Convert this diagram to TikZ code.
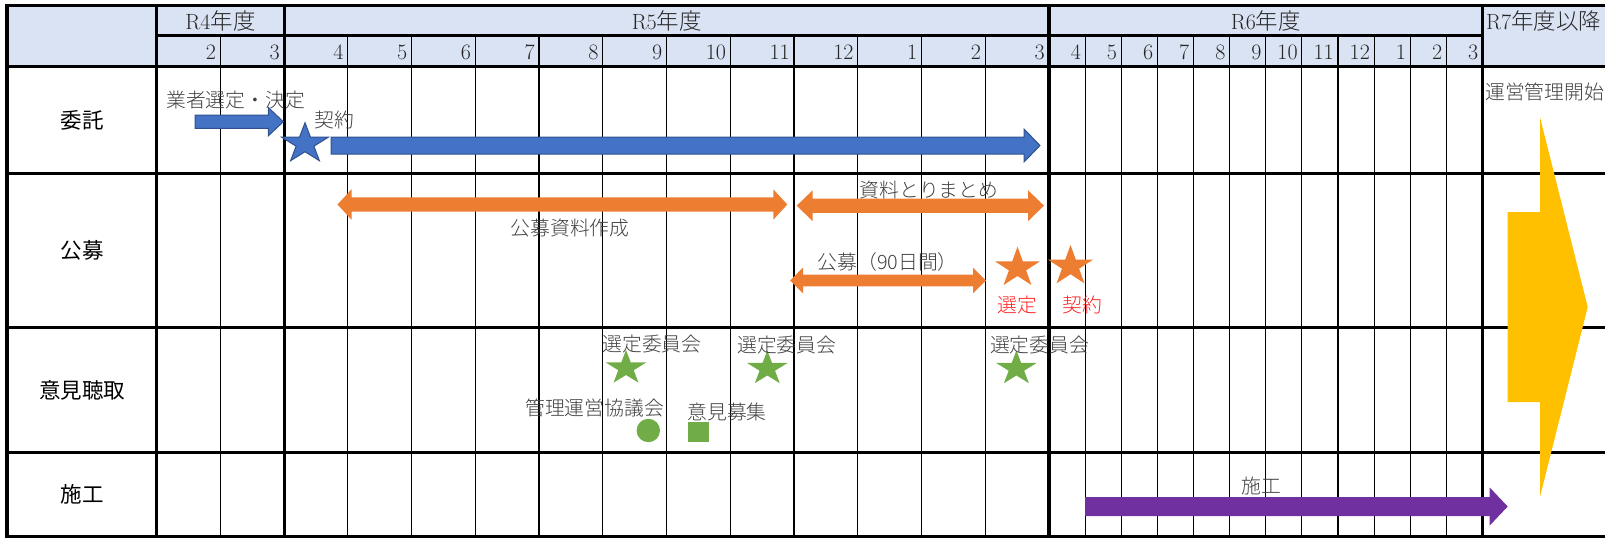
\documentclass[tikz,border=0pt]{standalone}
\usepackage{fontspec}
\newfontfamily\jp{Noto Sans CJK JP}
\IfFontExistsTF{Noto Sans CJK JP Light}{\newfontfamily\jpl{Noto Sans CJK JP Light}}{\newfontfamily\jpl{Noto Sans CJK JP}}
\definecolor{hdr}{HTML}{DAE3F3}
\definecolor{cblue}{HTML}{4472C4}
\definecolor{cblueline}{HTML}{2F528F}
\definecolor{corange}{HTML}{ED7D31}
\definecolor{cgreen}{HTML}{70AD47}
\definecolor{cpurple}{HTML}{7030A0}
\definecolor{cyellow}{HTML}{FFC000}
\definecolor{txtgray}{HTML}{404040}
\definecolor{cred}{HTML}{FF2020}
% right block arrow: style, xstart, xtip, yc, shaft half, head half, head length
\newcommand{\blockR}[7]{%
  \draw[#1] (#2,{#4-#5}) -- ({#3-#7},{#4-#5}) -- ({#3-#7},{#4-#6}) -- (#3,#4)
    -- ({#3-#7},{#4+#6}) -- ({#3-#7},{#4+#5}) -- (#2,{#4+#5}) -- cycle;}
% double block arrow: style, xlefttip, xrighttip, yc, shaft half, head half, head length
\newcommand{\blockLR}[7]{%
  \draw[#1] (#2,#4) -- ({#2+#7},{#4-#6}) -- ({#2+#7},{#4-#5}) -- ({#3-#7},{#4-#5})
    -- ({#3-#7},{#4-#6}) -- (#3,#4) -- ({#3-#7},{#4+#6}) -- ({#3-#7},{#4+#5})
    -- ({#2+#7},{#4+#5}) -- ({#2+#7},{#4+#6}) -- cycle;}
% star: style, cx, top, width, height
\newcommand{\estar}[5]{%
  \begin{scope}[shift={(#2,{#3+#5/1.809})}, xscale={#4/1.902}, yscale={-#5/1.809}]
    \draw[#1] (90:1) -- (126:0.382) -- (162:1) -- (198:0.382) -- (234:1) -- (270:0.382)
      -- (306:1) -- (342:0.382) -- (18:1) -- (54:0.382) -- cycle;
  \end{scope}}
\begin{document}
\begin{tikzpicture}[x=1pt,y=-1pt,
  thinline/.style={line width=1.1pt, black},
  thickline/.style={line width=3.2pt, black, line cap=rect},
  body/.style={font=\jpl\fontsize{19.8}{22}\selectfont, text=txtgray, inner sep=0pt},
  redt/.style={font=\jpl\fontsize{19.8}{22}\selectfont, text=cred, inner sep=0pt},
  rowlbl/.style={font=\jp\fontsize{21.5}{24}\selectfont, text=black, inner sep=0pt},
  yearlbl/.style={font=\fontsize{22}{24}\selectfont, text=black!85, inner sep=0pt},
  yearjp/.style={font=\jpl\fontsize{22.5}{24}\selectfont},
  mon/.style={font=\fontsize{22}{24}\selectfont, text=black!85, inner sep=0pt, anchor=east}]
\path[use as bounding box, clip] (0,0) rectangle (1605,538);

% header background
\fill[hdr] (7,5.3) rectangle (1610,66.3);

% thin month lines
\foreach \k in {1,3,4,...,13} {
  \draw[thinline] ({156.5+63.75*\k},35.5) -- ({156.5+63.75*\k},536.5);
}
\foreach \k in {1,...,11} {
  \draw[thinline] ({1049+36.125*\k},35.5) -- ({1049+36.125*\k},536.5);
}
% thick lines
\foreach \xx in {7,156.5,284.5,1049,1482.5} {
  \draw[thickline] (\xx,5.3) -- (\xx,536.5);
}
\foreach \yy in {5.3,66.3,173.5,327.5,452.5,536.5} {
  \draw[thickline] (7,\yy) -- (1610,\yy);
}
\draw[thickline] (156.5,35.5) -- (1482.5,35.5);

% header texts
\newcommand{\nendo}[1]{{\jpl\fontsize{22.5}{24}\selectfont #1}}
\node[yearlbl] (r4) at (220.5,21) {R4\nendo{年度}};
\node[yearlbl] (r5) at (666.8,21) {R5\nendo{年度}};
\node[yearlbl] (r6) at (1265.8,21) {R6\nendo{年度}};
\node[yearlbl, anchor=west] (r7) at (1486,21) {R7\nendo{年度以降}};
\foreach \n [count=\i from 0] in {2,3,4,5,6,7,8,9,10,11,12,1,2,3} {
  \node[mon] (m\i) at ({156.5+63.75*(\i+1)-4},52.5) {\n};
}
\foreach \n [count=\i from 0] in {4,5,6,7,8,9,10,11,12,1,2,3} {
  \node[mon] (n\i) at ({1049+36.125*(\i+1)-4},52.5) {\n};
}

% row labels
\node[rowlbl] (l1) at (82,120) {委託};
\node[rowlbl] (l2) at (82,250.5) {公募};
\node[rowlbl] (l3) at (82,390) {意見聴取};
\node[rowlbl] (l4) at (82,494.5) {施工};

% yellow arrow
\blockR{fill=cyellow, draw=none}{1507.7}{1587.7}{307}{95}{189.7}{47.7}

% blue arrows and star
\blockR{fill=cblue, draw=cblueline, line width=1pt}{195}{283.3}{121.7}{6.6}{14.2}{15}
\blockR{fill=cblue, draw=cblueline, line width=1pt}{331}{1040}{145.5}{8.5}{16.5}{16}
\estar{fill=cblue, draw=cblueline, line width=1pt}{305}{122.7}{46.6}{38}

% orange arrows and stars
\blockLR{fill=corange, draw=none}{337.5}{787.3}{204.5}{7.2}{15.2}{14}
\blockLR{fill=corange, draw=none}{796.7}{1044}{205.7}{7.2}{15.5}{16}
\blockLR{fill=corange, draw=none}{790}{986}{280.5}{5.9}{12.8}{13}
\estar{fill=corange, draw=none}{1017.5}{246.7}{45}{38.3}
\estar{fill=corange, draw=none}{1070.5}{245}{45}{38.3}

% green marks
\estar{fill=cgreen, draw=none}{626}{350}{40.4}{32.7}
\estar{fill=cgreen, draw=none}{767.3}{350.5}{40.4}{32.7}
\estar{fill=cgreen, draw=none}{1016.4}{350.5}{40.4}{32.7}
\fill[cgreen] (648.3,430.5) circle[radius=11.7];
\fill[cgreen] (688,421.7) rectangle (709,442);

% purple arrow
\blockR{fill=cpurple, draw=none}{1085}{1507.7}{506.5}{9.5}{19}{18}

% body texts
\node[body] (t1) at (235.5,100) {業者選定・決定};
\node[body] (t2) at (334,119.5) {契約};
\node[body] (t3) at (570,228.5) {公募資料作成};
\node[body] (t4) at (929,190) {資料とりまとめ};
\node[body] (t5) at (887.7,261.7) {公募（90日間）};
\node[redt] (t6) at (1017,305) {選定};
\node[redt] (t7) at (1082,305) {契約};
\node[body] (t8) at (652,344) {選定委員会};
\node[body] (t9) at (786.7,345.5) {選定委員会};
\node[body] (t10) at (1039.6,345.5) {選定委員会};
\node[body] (t11) at (594.5,408) {管理運営協議会};
\node[body] (t12) at (727,411.7) {意見募集};
\node[body] (t13) at (1261,486) {施工};
\node[body, anchor=west] (t14) at (1485,92) {運営管理開始};
\end{tikzpicture}
\end{document}
